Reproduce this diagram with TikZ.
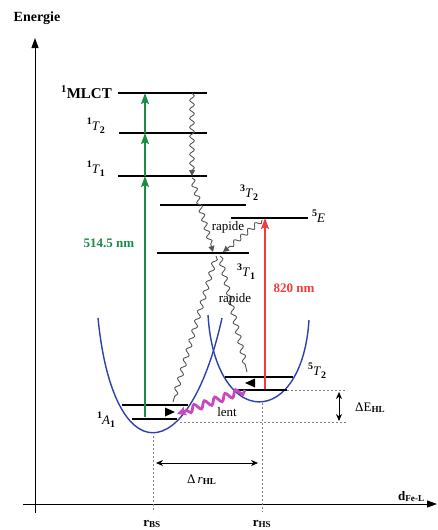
\documentclass[tikz,border=0pt]{standalone}
\usepackage{fontspec}
\setmainfont{Liberation Serif}
\usetikzlibrary{arrows.meta,decorations.pathmorphing}
\definecolor{gr}{RGB}{25,140,70}
\definecolor{rd}{RGB}{240,60,60}
\definecolor{potblue}{RGB}{45,65,170}
\definecolor{mag}{RGB}{200,70,190}
\definecolor{wavegray}{RGB}{85,85,85}
\newcommand\lblfont{\fontsize{13}{15}\selectfont}
\newcommand\hisup[1]{\raisebox{0.42em}{\fontsize{10}{10}\selectfont\bfseries #1}}
\newcommand\losub[1]{\raisebox{-0.3em}{\fontsize{10}{10}\selectfont\bfseries #1}}
\begin{document}
\begin{tikzpicture}[x=1pt,y=-1pt,
  lvl/.style={line width=1.6pt},
  pot/.style={draw=potblue,line width=1.4pt},
  axis/.style={line width=1pt,-{Triangle[length=10pt,width=7pt]}},
  garrow/.style={draw=gr,line width=1.4pt,-{Stealth[length=11pt,width=8pt,inset=2pt]}},
  rarrow/.style={draw=rd,line width=1.4pt,-{Stealth[length=11pt,width=8pt,inset=2pt]}},
  wave/.style={draw=wavegray,line width=0.9pt,decorate,
    decoration={snake,amplitude=2.3pt,segment length=9pt,post length=5pt}},
  wavetip/.style={wave,-{Triangle[length=6pt,width=6pt]}},
  magwave/.style={draw=mag,line width=2.8pt,decorate,
    decoration={snake,amplitude=3.4pt,segment length=11pt,post length=7pt},
    -{Stealth[length=9pt,width=9pt,inset=2pt]}},
  dot/.style={draw=gray,line width=0.6pt,dash pattern=on 2pt off 2pt},
  dim/.style={line width=0.7pt,{Stealth[length=7pt,width=6pt]}-{Stealth[length=7pt,width=6pt]}},
  lbl/.style={font=\lblfont,inner sep=0pt}
]
\useasboundingbox (0,0) rectangle (438,530);

% axes
\coordinate (yb) at (35,513); \coordinate (yt) at (35,38);
\coordinate (xl) at (23,504); \coordinate (xr) at (437,504);
\draw[axis] (yb) -- (yt);
\draw[axis] (xl) -- (xr);
\node[lbl,font=\fontsize{14}{16}\selectfont\bfseries] (energie) at (37,18) {Energie};
\node[lbl,anchor=base west] (dfel) at (398,500) {\textbf{d\textsubscript{Fe-L}}};

% potential curves
\draw[pot] (98,318) .. controls (113,471) and (188,471) .. (222,318);
\draw[pot] (208,315) .. controls (215,430) and (302,430) .. (309,320);

% levels
\coordinate (mlctL) at (118,93);  \coordinate (mlctR) at (207,93);
\coordinate (t2sL) at (119,133);  \coordinate (t2sR) at (207,133);
\coordinate (t1sL) at (118,176);  \coordinate (t1sR) at (207,176);
\coordinate (t2tL) at (160,205);  \coordinate (t2tR) at (246,205);
\coordinate (eL) at (231,218);    \coordinate (eR) at (308,218);
\coordinate (t1tL) at (157,253);  \coordinate (t1tR) at (249,253);
\coordinate (qUL) at (225,377);   \coordinate (qUR) at (293,377);
\coordinate (qLL) at (235,390);   \coordinate (qLR) at (287,390);
\coordinate (aUL) at (122,405);   \coordinate (aUR) at (188,405);
\coordinate (aLL) at (132,419);   \coordinate (aLR) at (177,419);
\foreach \a/\b in {mlctL/mlctR,t2sL/t2sR,t1sL/t1sR,t2tL/t2tR,eL/eR,t1tL/t1tR,qUL/qUR,qLL/qLR,aUL/aUR,aLL/aLR}
  \draw[lvl] (\a) -- (\b);

% level labels
\node[lbl,anchor=base east,font=\fontsize{15}{17}\selectfont\bfseries] (lmlct) at (112,98) {\textsuperscript{1}MLCT};
\node[lbl,anchor=base east] (lt2s) at (105,130) {\hisup{1}\textit{T}\losub{2}};
\node[lbl,anchor=base east] (lt1s) at (105,173) {\hisup{1}\textit{T}\losub{1}};
\node[lbl,anchor=base west] (lt2t) at (240,197) {\hisup{3}\textit{T}\losub{2}};
\node[lbl,anchor=base west] (le) at (312,222) {\hisup{5}\textit{E}};
\node[lbl,anchor=base west] (lt1t) at (237,276) {\hisup{3}\textit{T}\losub{1}};
\node[lbl,anchor=base west] (lq) at (308,375) {\hisup{5}\textit{T}\losub{2}};
\node[lbl,anchor=base west] (la) at (97,424) {\hisup{1}\textit{A}\losub{1}};

% green excitation
\coordinate (g0) at (145,417); \coordinate (g1) at (145,176);
\coordinate (g2) at (145,133); \coordinate (g3) at (145,93);
\draw[garrow] (g0) -- (g1);
\draw[garrow] (g1) -- (g2);
\draw[garrow] (g2) -- (g3);
\node[lbl,anchor=base,text=gr,font=\lblfont\bfseries] (l514) at (109,247) {514.5 nm};

% red excitation
\coordinate (r0) at (265,389); \coordinate (r1) at (265,218);
\draw[rarrow] (r0) -- (r1);
\node[lbl,anchor=base,text=rd,font=\lblfont\bfseries] (l820) at (294,292) {820 nm};

% relaxation wavy lines
\coordinate (w1a) at (192,93);  \coordinate (w1b) at (192,176);
\coordinate (w2a) at (192,178); \coordinate (w2b) at (213,252);
\coordinate (w3a) at (262,220); \coordinate (w3b) at (223,252);
\coordinate (w4a) at (216,256); \coordinate (w4b) at (173,402);
\coordinate (w5a) at (220,256); \coordinate (w5b) at (247,372);
\draw[wavetip] (w1a) -- (w1b);
\draw[wavetip] (w2a) -- (w2b);
\draw[wavetip] (w3a) -- (w3b);
\draw[wave,decoration={snake,amplitude=2.3pt,segment length=10pt,post length=3pt}] (w4a) -- (w4b);
\draw[wave,decoration={snake,amplitude=2.3pt,segment length=10pt,post length=3pt}] (w5a) -- (w5b);
\fill (175,412) -- (165,407.5) -- (165,416.5) -- cycle;
\fill (245,383) -- (255,378.5) -- (255,387.5) -- cycle;
\node[lbl,anchor=base] (rap1) at (228,230) {rapide};
\node[lbl,anchor=base] (rap2) at (235,302) {rapide};

% slow relaxation
\coordinate (m0) at (245,390); \coordinate (m1) at (177,414);
\draw[magwave] (m0) -- (m1);
\node[lbl,anchor=base] (lent) at (227,416) {lent};

% dotted guides
\coordinate (dbsT) at (153,436); \coordinate (dbsB) at (153,512);
\coordinate (dhsT) at (262,403); \coordinate (dhsB) at (262,512);
\draw[dot] (dbsT) -- (dbsB);
\draw[dot] (dhsT) -- (dhsB);
\coordinate (deT0) at (287,390); \coordinate (deT1) at (347,390);
\coordinate (deB0) at (180,422); \coordinate (deB1) at (347,422);
\draw[dot] (deT0) -- (deT1);
\draw[dot] (deB0) -- (deB1);

% Delta E
\coordinate (de0) at (339,392); \coordinate (de1) at (339,421);
\draw[dim] (de0) -- (de1);
\node[lbl,anchor=base west] (lde) at (355,411) {ΔE\textsubscript{\textbf{HL}}};

% Delta r
\coordinate (dr0) at (156,463); \coordinate (dr1) at (258,463);
\draw[dim] (dr0) -- (dr1);
\node[lbl,anchor=base west] (ldr) at (187,483) {Δ\,\textit{r}\textsubscript{\textbf{HL}}};

\node[lbl,anchor=base,font=\lblfont\bfseries] (rbs) at (152,526) {r\textsubscript{BS}};
\node[lbl,anchor=base,font=\lblfont\bfseries] (rhs) at (262,526) {r\textsubscript{HS}};
\end{tikzpicture}
\end{document}
